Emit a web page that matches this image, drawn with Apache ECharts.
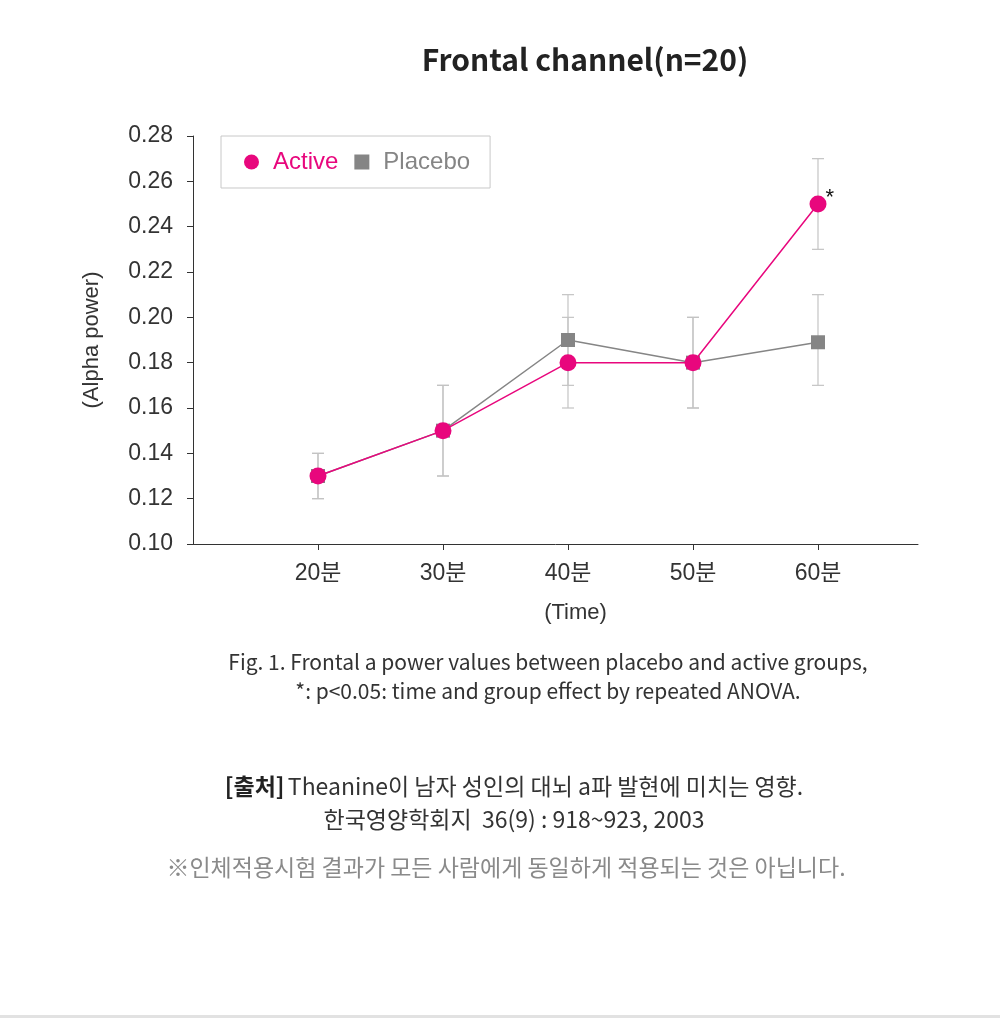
<!DOCTYPE html>
<html>
<head>
<meta charset="utf-8">
<script src="https://cdn.jsdelivr.net/npm/echarts@6/dist/echarts.min.js"></script>
<style>
  html, body { margin: 0; padding: 0; background: #fff; }
  #main { width: 1000px; height: 1018px; }
</style>
</head>
<body>
<div id="main"></div>
<script>
// 측정 시점 (x축)
var times = ['20분', '30분', '40분', '50분', '60분'];
// 평균값
var active = [0.13, 0.15, 0.18, 0.18, 0.25];
var placebo = [0.13, 0.15, 0.19, 0.18, 0.189];
// 오차막대 (low, high)
var activeLow = [0.12, 0.13, 0.16, 0.16, 0.23];
var activeHigh = [0.14, 0.17, 0.20, 0.20, 0.27];
var placeboLow = [0.12, 0.13, 0.17, 0.16, 0.17];
var placeboHigh = [0.14, 0.17, 0.21, 0.20, 0.21];
// 유의성 표시
var sigMarks = ['', '', '', '', '*'];

var FONT = '"Liberation Sans", "Noto Sans CJK KR", sans-serif';
var KFONT = '"Noto Sans CJK KR", sans-serif';
var PINK = '#e8077d';
var GREY = '#858585';

var chart = echarts.init(document.getElementById('main'), null, { renderer: 'canvas' });

function toPoints(arr) {
  return arr.map(function (v, i) { return [i + 1, v]; });
}

function errData(low, high) {
  return low.map(function (v, i) { return [i + 1, v, high[i]]; });
}

function renderErr(params, api) {
  var x = api.value(0);
  var lo = api.coord([x, api.value(1)]);
  var hi = api.coord([x, api.value(2)]);
  var hw = 6;
  var style = { stroke: '#c4c4c4', lineWidth: 1.2 };
  return {
    type: 'group',
    children: [
      { type: 'line', shape: { x1: lo[0], y1: lo[1], x2: hi[0], y2: hi[1] }, style: style },
      { type: 'line', shape: { x1: lo[0] - hw, y1: lo[1], x2: lo[0] + hw, y2: lo[1] }, style: style },
      { type: 'line', shape: { x1: hi[0] - hw, y1: hi[1], x2: hi[0] + hw, y2: hi[1] }, style: style }
    ]
  };
}

var activeData = active.map(function (v, i) {
  return {
    value: [i + 1, v],
    label: {
      show: sigMarks[i] !== '',
      formatter: sigMarks[i],
      position: [16, -9],
      fontSize: 22,
      color: '#111',
      fontFamily: FONT
    }
  };
});

var option = {
  backgroundColor: '#fff',
  animation: false,
  title: {
    text: 'Frontal channel(n=20)',
    left: 580,
    top: 40,
    textAlign: 'center',
    textStyle: { fontSize: 30, fontWeight: 'bold', color: '#222', fontFamily: KFONT }
  },
  legend: {
    left: 221,
    top: 136,
    padding: [14, 20, 14, 23],
    itemGap: 16,
    itemWidth: 15,
    itemHeight: 15,
    borderColor: '#c8c8c8',
    borderWidth: 1,
    textStyle: { fontSize: 24, fontFamily: FONT, padding: [0, 0, 0, 9] },
    data: [
      { name: 'Active', icon: 'circle', textStyle: { color: PINK } },
      { name: 'Placebo', icon: 'rect', textStyle: { color: GREY } }
    ]
  },
  grid: {
    left: 193,
    right: 82,
    top: 136,
    bottom: 474
  },
  xAxis: {
    type: 'value',
    min: 0,
    max: 5.8,
    interval: 1,
    name: '(Time)',
    nameLocation: 'middle',
    nameGap: 58,
    nameTextStyle: { fontSize: 22, color: '#333', fontFamily: FONT, padding: [0, 0, 0, 40] },
    splitLine: { show: false },
    axisLine: { lineStyle: { color: '#333', width: 1 } },
    axisTick: { customValues: [1, 2, 3, 4, 5], length: 6, lineStyle: { color: '#333' } },
    axisLabel: {
      customValues: [1, 2, 3, 4, 5],
      margin: 18,
      fontSize: 23,
      color: '#333',
      fontFamily: FONT,
      formatter: function (v) { return times[Math.round(v) - 1] || ''; }
    }
  },
  yAxis: {
    type: 'value',
    min: 0.10,
    max: 0.28,
    interval: 0.02,
    name: '(Alpha power)',
    nameLocation: 'middle',
    nameRotate: 90,
    nameGap: 90,
    nameTextStyle: { fontSize: 22, color: '#333', fontFamily: FONT },
    splitLine: { show: false },
    axisLine: { show: true, lineStyle: { color: '#333', width: 1 } },
    axisTick: { show: true, length: 6, lineStyle: { color: '#333' } },
    axisLabel: {
      margin: 20,
      fontSize: 23,
      color: '#333',
      fontFamily: FONT,
      formatter: function (v) { return v.toFixed(2); }
    }
  },
  graphic: [
    {
      type: 'text', x: 548, y: 648,
      style: {
        text: 'Fig. 1. Frontal a power values between placebo and active groups,\n*: p<0.05: time and group effect by repeated ANOVA.',
        fontSize: 21, lineHeight: 29, fill: '#333', fontFamily: KFONT, align: 'center'
      }
    },
    {
      type: 'text', x: 514, y: 770,
      style: {
        rich: {
          b: { fontWeight: 'bold', fontSize: 23, fill: '#222', fontFamily: KFONT },
          n: { fontSize: 23, fill: '#333', fontFamily: KFONT }
        },
        text: '{b|[출처]} {n|Theanine이 남자 성인의 대뇌 a파 발현에 미치는 영향.}\n{n|한국영양학회지  36(9) : 918~923, 2003}',
        lineHeight: 33, align: 'center'
      }
    },
    {
      type: 'text', x: 506, y: 856,
      style: {
        text: '※인체적용시험 결과가 모든 사람에게 동일하게 적용되는 것은 아닙니다.',
        fontSize: 23, fill: '#8a8a8a', fontFamily: KFONT, align: 'center'
      }
    },
    {
      type: 'rect', left: 0, top: 1015,
      shape: { width: 1000, height: 3 },
      style: { fill: '#e2e2e2' }
    }
  ],
  series: [
    {
      name: 'placeboErr',
      type: 'custom',
      renderItem: renderErr,
      data: errData(placeboLow, placeboHigh),
      z: 1,
      silent: true
    },
    {
      name: 'activeErr',
      type: 'custom',
      renderItem: renderErr,
      data: errData(activeLow, activeHigh),
      z: 1,
      silent: true
    },
    {
      name: 'Placebo',
      type: 'line',
      data: toPoints(placebo),
      symbol: 'rect',
      symbolSize: 14,
      color: GREY,
      lineStyle: { color: GREY, width: 1.5 },
      itemStyle: { color: GREY },
      z: 3
    },
    {
      name: 'Active',
      type: 'line',
      data: activeData,
      symbol: 'circle',
      symbolSize: 17,
      color: PINK,
      lineStyle: { color: PINK, width: 1.5 },
      itemStyle: { color: PINK },
      z: 4
    }
  ]
};

chart.setOption(option);
</script>
</body>
</html>
